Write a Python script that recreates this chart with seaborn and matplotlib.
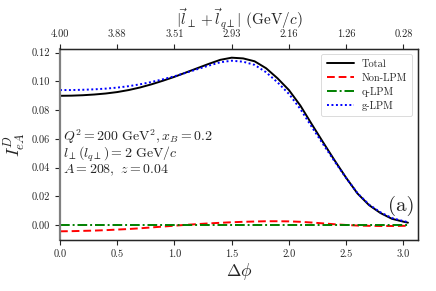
import numpy as np
import pandas as pd
import matplotlib
matplotlib.use("Agg")
import matplotlib.pyplot as plt
import seaborn as sns

# ---- data ----
dphi = [0.0, 0.1, 0.2, 0.3, 0.4, 0.5, 0.6, 0.7, 0.8, 0.9, 1.0, 1.1, 1.2, 1.3, 1.4,
        1.5, 1.6, 1.7, 1.8, 1.9, 2.0, 2.1, 2.2, 2.3, 2.4, 2.5, 2.6, 2.7, 2.8, 2.9,
        3.0, 3.04]
total = [0.0900, 0.0901, 0.0904, 0.0909, 0.0916, 0.0926, 0.0940, 0.0958, 0.0980,
         0.1005, 0.1032, 0.1062, 0.1092, 0.1122, 0.1150, 0.1165, 0.1160, 0.1140,
         0.1092, 0.1022, 0.0940, 0.0832, 0.0702, 0.0575, 0.0450, 0.0330, 0.0220,
         0.0140, 0.0085, 0.0045, 0.0025, 0.0018]
non_lpm = [-0.0042, -0.0041, -0.0039, -0.0037, -0.0034, -0.0030, -0.0026, -0.0021,
           -0.0015, -0.0009, -0.0003, 0.0003, 0.0008, 0.0013, 0.0017, 0.0021, 0.0024,
           0.0026, 0.0028, 0.0028, 0.0027, 0.0024, 0.0019, 0.0013, 0.0007, 0.0002,
           -0.0002, -0.0004, -0.0005, -0.0005, -0.0004, -0.0004]
q_lpm = [0.0001] * 32
g_lpm = [0.0940, 0.0940, 0.0942, 0.0945, 0.0950, 0.0957, 0.0967, 0.0980, 0.0996,
         0.1015, 0.1036, 0.1060, 0.1085, 0.1110, 0.1133, 0.1144, 0.1137, 0.1115,
         0.1064, 0.0994, 0.0913, 0.0808, 0.0683, 0.0562, 0.0443, 0.0328, 0.0222,
         0.0144, 0.0090, 0.0050, 0.0029, 0.0022]

bottom_ticks = [0.0, 0.5, 1.0, 1.5, 2.0, 2.5, 3.0]
bottom_labels = ["0.0", "0.5", "1.0", "1.5", "2.0", "2.5", "3.0"]
top_labels = ["4.00", "3.88", "3.51", "2.93", "2.16", "1.26", "0.28"]
y_ticks = [0.00, 0.02, 0.04, 0.06, 0.08, 0.10, 0.12]
y_labels = ["0.00", "0.02", "0.04", "0.06", "0.08", "0.10", "0.12"]
annotation_lines = [r"$Q^2=200\ \mathrm{GeV}^2, x_B=0.2$",
                    r"$l_\perp(l_{q\perp})=2\ \mathrm{GeV}/c$",
                    r"$A=208,\ z=0.04$"]

series_names = ["Total", "Non-LPM", "q-LPM", "g-LPM"]
series_vals = [total, non_lpm, q_lpm, g_lpm]

df = pd.concat([pd.DataFrame({"dphi": dphi, "I": v, "curve": n})
                for n, v in zip(series_names, series_vals)], ignore_index=True)

# ---- style ----
sns.set_style("ticks")
plt.rcParams["font.family"] = "serif"
plt.rcParams["font.serif"] = ["cmr10"]
plt.rcParams["mathtext.fontset"] = "cm"
plt.rcParams["axes.formatter.use_mathtext"] = True
plt.rcParams["axes.unicode_minus"] = False

fig = plt.figure(figsize=(4.36, 2.91), dpi=100)
ax = fig.add_axes([0.1376, 0.1753, 0.8204, 0.6563])

styles = {"Total": ("black", "-"), "Non-LPM": ("red", (0, (4, 2))),
          "q-LPM": ("green", (0, (5, 1.5, 1, 1.5))), "g-LPM": ("blue", (0, (1, 1.3)))}
for name in series_names:
    sub = df[df["curve"] == name]
    c, ls = styles[name]
    sns.lineplot(data=sub, x="dphi", y="I", ax=ax, color=c, linestyle=ls,
                 linewidth=1.4, label=name)

ax.set_xlim(0, 3.125)
ax.set_xticks(bottom_ticks)
ax.set_xticklabels(bottom_labels)
ax.set_yticks(y_ticks)
ax.set_yticklabels(y_labels)
ax.tick_params(labelsize=7.5, length=3.5, width=0.8)
ax.set_xlabel(r"$\Delta\phi$", fontsize=12.5, labelpad=1)
ax.set_ylabel(r"$I^D_{eA}$", fontsize=13, labelpad=3)
for s in ax.spines.values():
    s.set_linewidth(0.9)
    s.set_color("black")
ax.spines["left"].set_color("0.5")
ax.spines["left"].set_linewidth(1.6)

ax2 = ax.twiny()
ax2.set_xlim(ax.get_xlim())
ax2.set_xticks(bottom_ticks)
ax2.set_xticklabels(top_labels)
ax2.tick_params(labelsize=7.5, length=3.5, width=0.8)
ax2.set_xlabel(r"$|\vec{l}_\perp+\vec{l}_{q\perp}|\ (\mathrm{GeV}/c)$", fontsize=11, labelpad=4)
for s in ax2.spines.values():
    s.set_linewidth(0.9)
ax2.spines["left"].set_visible(False)

leg = ax.legend(loc="upper right", fontsize=7.5, frameon=True, handlelength=2.6,
                borderpad=0.5, labelspacing=0.4)
leg.get_frame().set_linewidth(0.6)

ax.text(0.008, 0.59, "\n".join(annotation_lines), transform=ax.transAxes,
        fontsize=10, va="top", ha="left", linespacing=0.88)
ax.text(0.99, 0.178, "(a)", transform=ax.transAxes, fontsize=15, va="center", ha="right")

fig.savefig("out.png", dpi=100)
